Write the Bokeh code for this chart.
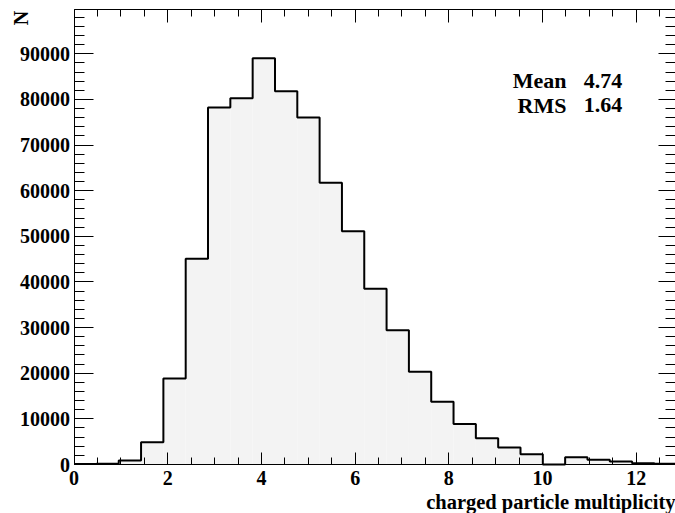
import numpy as np
from bokeh.plotting import figure
from bokeh.models import LinearAxis, FixedTicker, Range1d, ColumnDataSource, CustomJSTickFormatter, Label
from bokeh.embed import file_html
from bokeh.resources import INLINE

# ---- data ----
bin_width = 0.4765
counts = [100, 150, 900, 4900, 18850, 45100, 78250, 80250, 89050, 81800,
          76050, 61750, 51100, 38500, 29400, 20300, 13750, 8900, 5750, 3700,
          2250, 0, 1600, 1050, 650, 300, 150]
x_ticks = [0, 2, 4, 6, 8, 10, 12]
y_ticks = [0, 10000, 20000, 30000, 40000, 50000, 60000, 70000, 80000, 90000]
stat_names = ["Mean", "RMS"]
stat_values = ["4.74", "1.64"]
x_title = "charged particle multiplicity"
y_title = "N"

FONT = "Liberation Serif"
W, H = 675, 513
# plot area inside the canvas (pixels)
LEFT_PX, TOP_PX, BOTTOM_PX = 73.6, 9.3, 464.0
X_MAX = 12.839
Y_MAX = 99650

# the frame fills the whole canvas; ranges extended so the plot area sits where it should
xpp = X_MAX / (W - LEFT_PX)                 # data units per pixel (x)
ypp = Y_MAX / (BOTTOM_PX - TOP_PX)          # data units per pixel (y)
x_range = Range1d(-LEFT_PX * xpp, X_MAX)
y_range = Range1d(-(H - BOTTOM_PX) * ypp, Y_MAX + TOP_PX * ypp)

counts_arr = np.array(counts, dtype=float)
edges = np.arange(len(counts) + 1) * bin_width

p = figure(width=W, height=H, x_range=x_range, y_range=y_range,
           output_backend="svg", toolbar_location=None,
           min_border=0, x_axis_type=None, y_axis_type=None)
p.grid.visible = False
p.outline_line_color = None
p.background_fill_color = "white"
p.border_fill_color = "white"

src = ColumnDataSource(dict(left=edges[:-1], right=edges[1:], top=counts_arr,
                            bottom=np.zeros_like(counts_arr)))
p.quad(left="left", right="right", top="top", bottom="bottom", source=src,
       fill_color="#f3f3f3", line_color=None)

# step outline
xs = np.repeat(edges, 2)[1:-1]
ys = np.repeat(counts_arr, 2)
p.line(xs, ys, line_color="black", line_width=2)

xminor = list(np.arange(0, 13.0, 0.5))
yminor = list(range(0, 100000, 2000))

def make_axis(ticks, minor, loc, bounds, major_in, minor_in, labels=True, standoff=4):
    ax = LinearAxis(ticker=FixedTicker(ticks=ticks, minor_ticks=minor),
                    fixed_location=loc, bounds=bounds)
    ax.axis_line_color = "black"
    ax.axis_line_width = 1
    ax.major_tick_line_color = "black"
    ax.minor_tick_line_color = "black"
    ax.major_tick_in = major_in
    ax.major_tick_out = 0
    ax.minor_tick_in = minor_in
    ax.minor_tick_out = 0
    ax.major_label_text_font = FONT
    ax.major_label_text_font_style = "bold"
    ax.major_label_text_color = "black"
    ax.major_label_text_font_size = "20px"
    ax.major_label_standoff = standoff
    if not labels:
        ax.formatter = CustomJSTickFormatter(code="return ''")
        ax.major_label_standoff = 0
        ax.major_label_text_font_size = "1px"
    return ax

p.add_layout(make_axis(x_ticks, xminor, 0, (0, X_MAX), 12, 7, standoff=6), "below")
p.add_layout(make_axis(y_ticks, yminor, 0, (0, Y_MAX), 19, 10, standoff=4), "left")
p.add_layout(make_axis(x_ticks, xminor, Y_MAX, (0, X_MAX), 13, 7, labels=False), "above")
p.add_layout(make_axis(y_ticks, yminor, X_MAX, (0, Y_MAX), 17, 10, labels=False), "right")

# stats box text
for i, (nm, val) in enumerate(zip(stat_names, stat_values)):
    yb = Y_MAX - 15550 - i * 5350
    p.add_layout(Label(x=10.51, y=yb, text=nm, text_font=FONT, text_font_style="bold",
                       text_font_size="22px", text_align="right", text_baseline="alphabetic",
                       text_color="black"))
    p.add_layout(Label(x=11.70, y=yb, text=val, text_font=FONT, text_font_style="bold",
                       text_font_size="22px", text_align="right", text_baseline="alphabetic",
                       text_color="black"))

# axis titles
p.add_layout(Label(x=X_MAX, y=0, y_offset=-37, text=x_title, text_font=FONT,
                   text_font_style="bold", text_font_size="20.5px", text_align="right",
                   text_baseline="alphabetic", text_color="black"))
p.add_layout(Label(x=0, y=Y_MAX, x_offset=-53, y_offset=-1, text=y_title, text_font=FONT,
                   text_font_style="bold", text_font_size="20px", text_align="right",
                   text_baseline="alphabetic", angle=np.pi / 2, text_color="black"))

open("out.html", "w").write(file_html(p, INLINE))
